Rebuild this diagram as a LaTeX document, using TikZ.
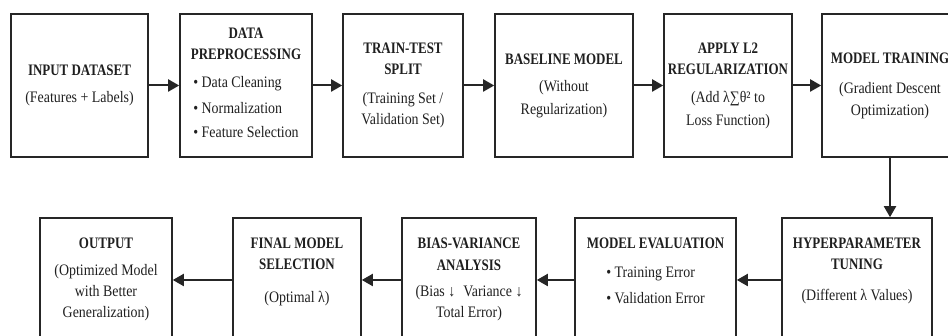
\documentclass[tikz,border=0pt]{standalone}
\usepackage{fontspec}
\setmainfont{Liberation Serif}[FakeStretch=0.87,BoldFeatures={FakeStretch=0.81}]
\usetikzlibrary{positioning,arrows.meta}
\colorlet{boxline}{black!85}
\colorlet{flowtext}{black!88}

\begin{document}
\begin{tikzpicture}[
    x=1pt, y=1pt,
    font=\fontsize{16}{21}\selectfont,
    >={Triangle[length=11pt,width=12pt]},
    % Stage boxes
    stagebox/.style={
        draw=boxline,
        line width=1.6pt,
        align=center,
        text=flowtext,
        inner sep=0pt
    },
    toprow/.style={stagebox, minimum height=143pt},
    lowrow/.style={stagebox, minimum height=124pt},
    stagetext/.style={
        align=center,
        text=flowtext,
        inner sep=0pt,
        anchor=north
    },
    flowarrow/.style={
        ->,
        line width=2pt,
        draw=boxline
    }
]
    \useasboundingbox (0,0) rectangle (948,336);
    \clip (0,0) rectangle (948,336);

    % =========================================================================
    % 1. TOP ROW (left to right)
    % =========================================================================
    \node[toprow, minimum width=137pt] (input) at (79.5, 250.5) {
        \textbf{INPUT DATASET}\\[6pt]
        (Features + Labels)
    };

    \node[toprow, minimum width=132pt] (prep) at (246, 250.5) {
        \textbf{DATA}\\
        \textbf{PREPROCESSING}\\[7pt]
        \begin{tabular}[t]{@{}l@{}}
            • Data Cleaning\\[5pt]
            • Normalization\\[3pt]
            • Feature Selection
        \end{tabular}
    };

    \node[toprow, minimum width=120pt] (split) at (403, 250.5) {
        \textbf{TRAIN-TEST}\\
        \textbf{SPLIT}\\[8pt]
        (Training Set /\\
        Validation Set)
    };

    \node[toprow, minimum width=138pt] (baseline) at (564, 250.5) {
        \textbf{BASELINE MODEL}\\[6pt]
        (Without\\[2pt]
        Regularization)
    };

    \node[toprow, minimum width=128pt] (ltwo) at (728, 250.5) {
        \textbf{APPLY L2}\\
        \textbf{REGULARIZATION}\\[7pt]
        (Add λ∑θ² to\\[2pt]
        Loss Function)
    };

    \node[toprow, minimum width=136pt] (training) at (890, 250.5) {
        \textbf{MODEL TRAINING}\\[9pt]
        (Gradient Descent\\[1pt]
        Optimization)
    };

    % =========================================================================
    % 2. BOTTOM ROW (right to left)
    % =========================================================================
    \node[lowrow, minimum width=150pt] (tuning) at (857, 56) {};
    \node[lowrow, minimum width=161pt] (evaluation) at (655.5, 56) {};
    \node[lowrow, minimum width=134pt] (biasvar) at (469, 56) {};
    \node[lowrow, minimum width=128pt] (selection) at (297, 56) {};
    \node[lowrow, minimum width=132pt] (output) at (106, 56) {};

    % Box texts, hung from the top edges
    \node[stagetext, below=21pt of tuning.north] (tuning_txt) {
        \textbf{HYPERPARAMETER}\\
        \textbf{TUNING}\\[10pt]
        (Different λ Values)
    };

    \node[stagetext, below=21pt of evaluation.north] (evaluation_txt) {
        \textbf{MODEL EVALUATION}\\[8pt]
        \begin{tabular}[t]{@{}l@{}}
            • Training Error\\[5pt]
            • Validation Error
        \end{tabular}
    };

    \node[stagetext, below=21pt of biasvar.north] (biasvar_txt) {
        \textbf{BIAS-VARIANCE}\\[1pt]
        \textbf{ANALYSIS}\\[5pt]
        (Bias ↓\enspace Variance ↓\\
        Total Error)
    };

    \node[stagetext, below=21pt of selection.north] (selection_txt) {
        \textbf{FINAL MODEL}\\
        \textbf{SELECTION}\\[12pt]
        (Optimal λ)
    };

    \node[stagetext, below=21pt of output.north] (output_txt) {
        \textbf{OUTPUT}\\[6pt]
        (Optimized Model\\
        with Better\\
        Generalization)
    };

    % =========================================================================
    % 3. FLOW ARROWS
    % =========================================================================
    \draw[flowarrow] (input.east) -- (prep.west);
    \draw[flowarrow] (prep.east) -- (split.west);
    \draw[flowarrow] (split.east) -- (baseline.west);
    \draw[flowarrow] (baseline.east) -- (ltwo.west);
    \draw[flowarrow] (ltwo.east) -- (training.west);

    \draw[flowarrow] (training.south) -- (training.south |- tuning.north);

    \draw[flowarrow] (tuning.west) -- (evaluation.east);
    \draw[flowarrow] (evaluation.west) -- (biasvar.east);
    \draw[flowarrow] (biasvar.west) -- (selection.east);
    \draw[flowarrow] (selection.west) -- (output.east);

\end{tikzpicture}
\end{document}
